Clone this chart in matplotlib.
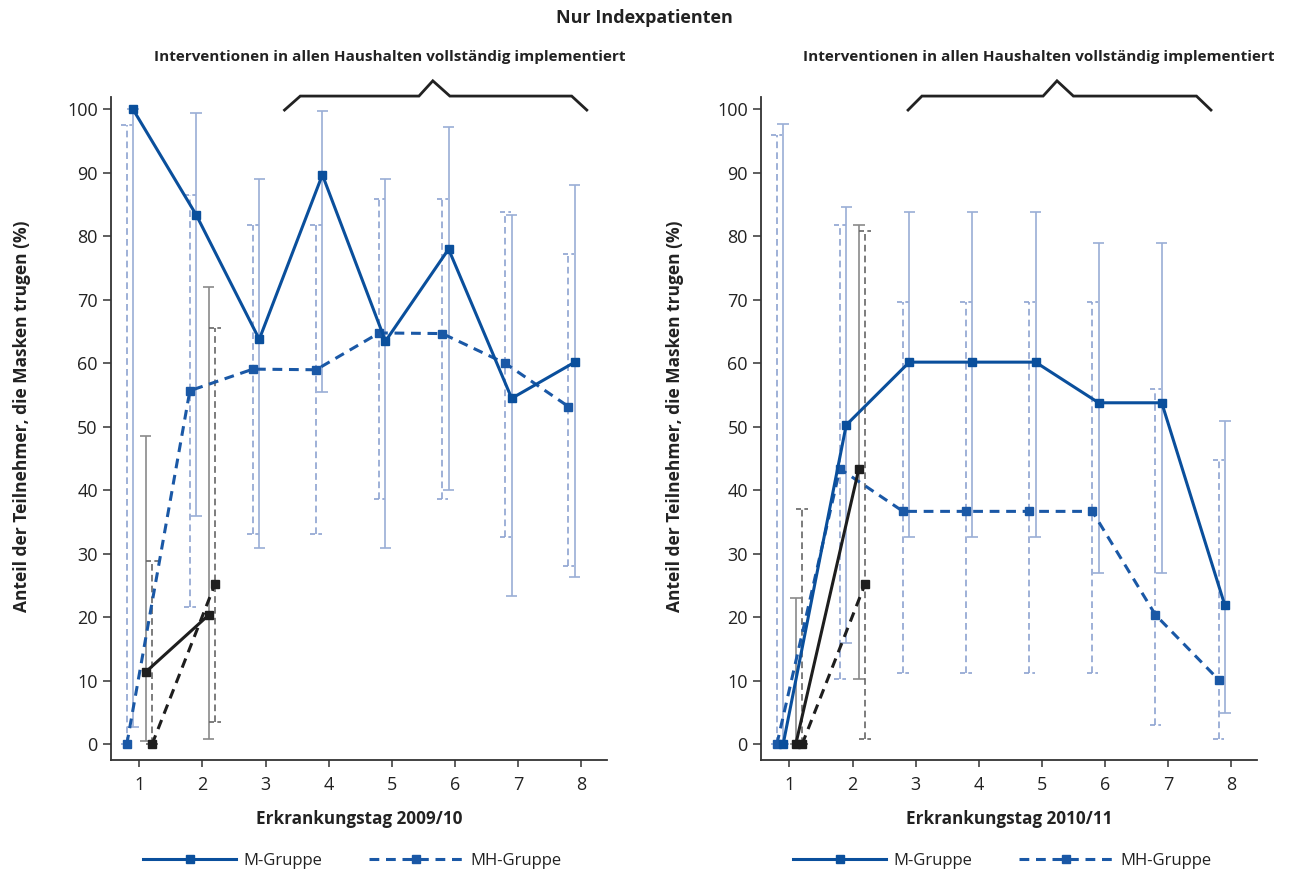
import matplotlib
matplotlib.use("Agg")
import matplotlib.pyplot as plt
from matplotlib.lines import Line2D
import numpy as np

plt.rcParams['font.family'] = ['Open Sans', 'DejaVu Sans']

days = [1, 2, 3, 4, 5, 6, 7, 8]
days_early = [1, 2]
tick_labels = ['1', '2', '3', '4', '5', '6', '7', '8']
yticks = [0, 10, 20, 30, 40, 50, 60, 70, 80, 90, 100]

# Season 2009/10
l_m = [100, 83.4, 63.8, 89.7, 63.5, 78.0, 54.5, 60.2]
l_m_lo = [2.7, 35.9, 31.0, 55.5, 31.0, 40.1, 23.4, 26.3]
l_m_hi = [100, 99.5, 89.0, 99.7, 89.0, 97.2, 83.3, 88.1]
l_mh = [0, 55.7, 59.1, 59.0, 64.8, 64.7, 60.0, 53.2]
l_mh_lo = [0, 21.6, 33.1, 33.1, 38.6, 38.6, 32.7, 28.1]
l_mh_hi = [97.6, 86.5, 81.8, 81.8, 85.9, 85.9, 83.9, 77.3]
l_k = [11.4, 20.4]
l_k_lo = [0.6, 0.8]
l_k_hi = [48.6, 72.0]
l_kd = [0, 25.3]
l_kd_lo = [0, 3.6]
l_kd_hi = [28.9, 65.6]

# Season 2010/11
r_m = [0, 50.3, 60.2, 60.2, 60.2, 53.8, 53.8, 21.9]
r_m_lo = [0, 16.0, 32.6, 32.6, 32.6, 27.0, 27.0, 4.9]
r_m_hi = [97.7, 84.6, 83.9, 83.9, 83.9, 79.0, 79.0, 51.0]
r_mh = [0, 43.4, 36.7, 36.7, 36.7, 36.7, 20.4, 10.2]
r_mh_lo = [0, 10.3, 11.2, 11.2, 11.2, 11.2, 3.0, 0.8]
r_mh_hi = [96.0, 81.8, 69.7, 69.7, 69.7, 69.7, 55.9, 44.8]
r_k = [0, 43.4]
r_k_lo = [0, 10.3]
r_k_hi = [23.0, 81.8]
r_kd = [0, 25.3]
r_kd_lo = [0, 0.9]
r_kd_hi = [37.0, 80.9]

BLUE = '#0a4f9c'
BLUE_D = '#1a58a6'
EB_BLUE = '#9aaed6'
EB_BLUE_D = '#8ea3d1'
BLACK = '#1e1e1e'
EB_GRAY = '#8a8a8a'
EB_GRAY_D = '#666666'
TXT = '#222222'

OFF_MH, OFF_M, OFF_K, OFF_KD = -0.2, -0.1, 0.1, 0.2
CAP = 0.09

fig = plt.figure(figsize=(12.89, 8.72), dpi=100)
ax1 = fig.add_axes([0.0861, 0.1281, 0.3848, 0.761])
ax2 = fig.add_axes([0.5904, 0.1281, 0.3848, 0.761])


def errbars(ax, x, lo, hi, color, dashed):
    x = np.asarray(x, float)
    ls = (0, (4, 2.5)) if dashed else '-'
    cls = (0, (3, 2)) if dashed else '-'
    ax.vlines(x, lo, hi, colors=color, linestyles=ls, lw=1.2, zorder=2)
    ax.hlines(lo, x - CAP, x + CAP, colors=color, linestyles=cls, lw=1.2, zorder=2)
    ax.hlines(hi, x - CAP, x + CAP, colors=color, linestyles=cls, lw=1.2, zorder=2)


def series(ax, x, y, color, dashed):
    ls = (0, (3.2, 2.2)) if dashed else '-'
    ax.plot(x, y, color=color, lw=2.2, ls=ls, marker='s', ms=6,
            mec=color, mfc=color, zorder=4)


def panel(ax, m, mlo, mhi, mh, mhlo, mhhi, k, klo, khi, kd, kdlo, kdhi,
          xlabel, bracket, ylab_x):
    xm = np.array(days) + OFF_M
    xmh = np.array(days) + OFF_MH
    xk = np.array(days_early) + OFF_K
    xkd = np.array(days_early) + OFF_KD
    errbars(ax, xmh, mhlo, mhhi, EB_BLUE_D, True)
    errbars(ax, xm, mlo, mhi, EB_BLUE, False)
    errbars(ax, xk, klo, khi, EB_GRAY, False)
    errbars(ax, xkd, kdlo, kdhi, EB_GRAY_D, True)
    series(ax, xmh, mh, BLUE_D, True)
    series(ax, xm, m, BLUE, False)
    series(ax, xk, k, BLACK, False)
    series(ax, xkd, kd, BLACK, True)

    ax.set_xlim(0.55, 8.41)
    ax.set_ylim(-2.5, 102.0)
    ax.set_xticks(days)
    ax.set_xticklabels(tick_labels)
    ax.set_yticks(yticks)
    for s in ['top', 'right']:
        ax.spines[s].set_visible(False)
    for s in ['left', 'bottom']:
        ax.spines[s].set_color('#333333')
        ax.spines[s].set_linewidth(1.3)
    ax.tick_params(axis='y', length=6, width=1.1, color='#333333',
                   labelsize=13, labelcolor=TXT, pad=3.5)
    ax.tick_params(axis='x', length=5, width=1.1, color='#333333',
                   labelsize=13, labelcolor=TXT, pad=6)
    ax.set_xlabel(xlabel, fontsize=12.3, fontweight='bold', color=TXT,
                  labelpad=12)
    ax.set_ylabel('Anteil der Teilnehmer, die Masken trugen (%)', fontsize=12.5,
                  fontweight='bold', color=TXT, va='center')
    ax.yaxis.set_label_coords(ylab_x, 0.519)
    bx, by = bracket
    ax.plot(bx, by, color=TXT, lw=2.0, clip_on=False, zorder=5,
            solid_joinstyle='miter')


br_y = [99.9, 102.1, 102.1, 104.5, 102.1, 102.1, 99.9]
panel(ax1, l_m, l_m_lo, l_m_hi, l_mh, l_mh_lo, l_mh_hi,
      l_k, l_k_lo, l_k_hi, l_kd, l_kd_lo, l_kd_hi,
      'Erkrankungstag 2009/10',
      ([3.30, 3.55, 5.43, 5.65, 5.92, 7.85, 8.09], br_y), -0.180)
panel(ax2, r_m, r_m_lo, r_m_hi, r_mh, r_mh_lo, r_mh_hi,
      r_k, r_k_lo, r_k_hi, r_kd, r_kd_lo, r_kd_hi,
      'Erkrankungstag 2010/11',
      ([2.88, 3.10, 5.02, 5.24, 5.50, 7.45, 7.68], br_y), -0.174)

fig.text(0.5, 1 - 18 / 872, 'Nur Indexpatienten', ha='center', va='center',
         fontsize=13, fontweight='bold', color=TXT)
sub = 'Interventionen in allen Haushalten vollständig implementiert'
fig.text(390 / 1289, 1 - 57 / 872, sub, ha='center', va='center',
         fontsize=11, fontweight='bold', color=TXT)
fig.text(1039 / 1289, 1 - 57 / 872, sub, ha='center', va='center',
         fontsize=11, fontweight='bold', color=TXT)

handles = [Line2D([], [], color=BLUE, lw=2.2, marker='s', ms=6, markevery=[1],
                  ls='-'),
           Line2D([], [], color=BLUE_D, lw=2.2, marker='s', ms=6, markevery=[1],
                  ls=(0, (3.2, 2.2)))]
for ax, x0 in [(ax1, 143), (ax2, 793)]:
    leg = fig.legend(handles, ['M-Gruppe', 'MH-Gruppe'], ncol=2, frameon=False,
                     loc='center left',
                     bbox_to_anchor=(x0 / 1289, 1 - 861 / 872),
                     fontsize=12, handlelength=5.6, handletextpad=0.45,
                     columnspacing=2.8, borderaxespad=0, borderpad=0)
    for t in leg.get_texts():
        t.set_color(TXT)

fig.savefig('out.png', dpi=100)
